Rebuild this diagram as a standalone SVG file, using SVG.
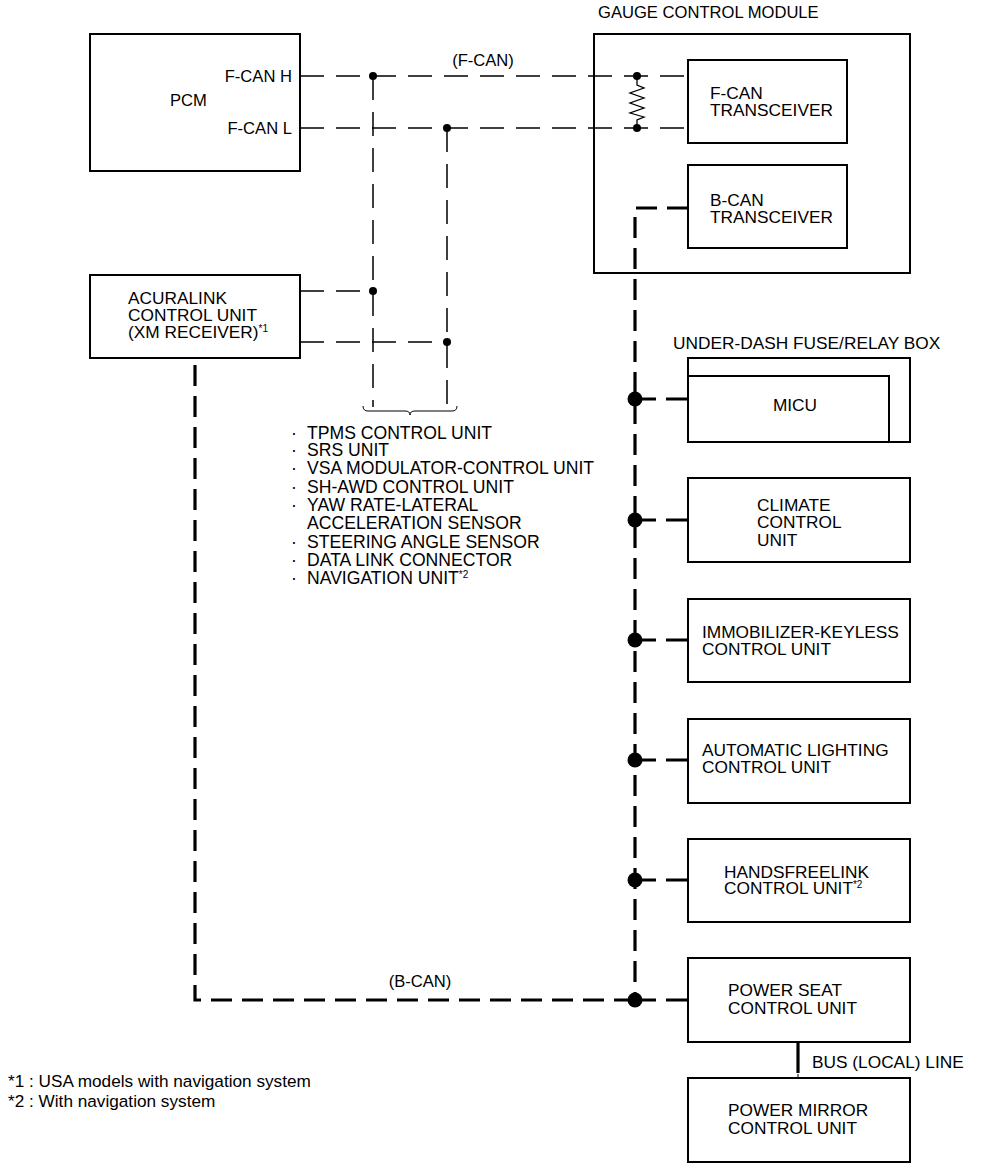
<svg xmlns="http://www.w3.org/2000/svg" width="992" height="1172" viewBox="0 0 992 1172">
<style>
text{font-family:"Liberation Sans",Arial,sans-serif;font-size:17.3px;fill:#000}
.box{fill:none;stroke:#000;stroke-width:2}
.thin{fill:none;stroke:#000;stroke-width:1.5;stroke-dasharray:24 12}
.thick{fill:none;stroke:#000;stroke-width:3.2;stroke-dasharray:21 10}
.sm{fill:#000}
.big{fill:#000}
.lbl{font-size:16.6px}
.list{font-size:17.6px}
.fn{font-size:17.2px}
</style>
<rect width="992" height="1172" fill="#fff"/>
<g id="pcm">
<rect class="box" x="90" y="34" width="210" height="137"/>
<text x="170" y="106" class="lbl">PCM</text>
<text x="292" y="82" text-anchor="end" class="lbl">F-CAN H</text>
<text x="292" y="134" text-anchor="end" class="lbl">F-CAN L</text>
</g>
<g id="gauge">
<text x="598" y="18" class="lbl">GAUGE CONTROL MODULE</text>
<rect class="box" x="594" y="34" width="316" height="239"/>
<g id="fcan-transceiver">
<rect class="box" x="688" y="60" width="159" height="83"/>
<text x="710" y="99">F-CAN</text>
<text x="710" y="116">TRANSCEIVER</text>
</g>
<g id="bcan-transceiver">
<rect class="box" x="688" y="165" width="159" height="83"/>
<text x="710" y="206">B-CAN</text>
<text x="710" y="223">TRANSCEIVER</text>
</g>
<g id="resistor">
<polyline fill="none" stroke="#000" stroke-width="1.3" points="637,76 637,85 644,88 630,93 644,98 630,103 644,108 630,113 644,117 637,120 637,128"/>
<circle class="sm" cx="637" cy="76" r="4"/>
<circle class="sm" cx="637" cy="128" r="4"/>
</g>
</g>
<g id="acuralink">
<rect class="box" x="90" y="275" width="210" height="83"/>
<text x="128" y="304">ACURALINK</text>
<text x="128" y="321">CONTROL UNIT</text>
<text x="128" y="338">(XM RECEIVER)<tspan font-size="10" dy="-6">*1</tspan></text>
</g>
<g id="fcan-list">
<path d="M363,406 q0,5 5,5 h37 q5,0 5,4 q0,-4 5,-4 h37 q5,0 5,-5" fill="none" stroke="#000" stroke-width="1"/>
<text x="291" y="439" class="list">·</text><text x="307" y="439" class="list">TPMS CONTROL UNIT</text>
<text x="291" y="456" class="list">·</text><text x="307" y="456" class="list">SRS UNIT</text>
<text x="291" y="474" class="list">·</text><text x="307" y="474" class="list">VSA MODULATOR-CONTROL UNIT</text>
<text x="291" y="493" class="list">·</text><text x="307" y="493" class="list">SH-AWD CONTROL UNIT</text>
<text x="291" y="511" class="list">·</text><text x="307" y="511" class="list">YAW RATE-LATERAL</text>
<text x="307" y="529" class="list">ACCELERATION SENSOR</text>
<text x="291" y="548" class="list">·</text><text x="307" y="548" class="list">STEERING ANGLE SENSOR</text>
<text x="291" y="566" class="list">·</text><text x="307" y="566" class="list">DATA LINK CONNECTOR</text>
<text x="291" y="584" class="list">·</text><text x="307" y="584" class="list">NAVIGATION UNIT<tspan font-size="10" dy="-6">*2</tspan></text>
</g>
<g id="fuse-box">
<text x="673" y="349">UNDER-DASH FUSE/RELAY BOX</text>
<rect class="box" x="688" y="358" width="222" height="84"/>
<g id="micu">
<rect class="box" x="688" y="376" width="201" height="66"/>
<text x="795" y="411" text-anchor="middle">MICU</text>
</g>
</g>
<g id="climate">
<rect class="box" x="688" y="478" width="222" height="84"/>
<text x="757" y="511">CLIMATE</text>
<text x="757" y="528">CONTROL</text>
<text x="757" y="546">UNIT</text>
</g>
<g id="immobilizer">
<rect class="box" x="688" y="599" width="222" height="83"/>
<text x="702" y="638">IMMOBILIZER-KEYLESS</text>
<text x="702" y="655">CONTROL UNIT</text>
</g>
<g id="lighting">
<rect class="box" x="688" y="719" width="222" height="84"/>
<text x="702" y="756">AUTOMATIC LIGHTING</text>
<text x="702" y="773">CONTROL UNIT</text>
</g>
<g id="handsfree">
<rect class="box" x="688" y="839" width="222" height="83"/>
<text x="724" y="878">HANDSFREELINK</text>
<text x="724" y="894">CONTROL UNIT<tspan font-size="10" dy="-6">*2</tspan></text>
</g>
<g id="power-seat">
<rect class="box" x="688" y="958" width="222" height="84"/>
<text x="728" y="996">POWER SEAT</text>
<text x="728" y="1014">CONTROL UNIT</text>
</g>
<g id="power-mirror">
<rect class="box" x="688" y="1078" width="222" height="84"/>
<text x="728" y="1116">POWER MIRROR</text>
<text x="728" y="1134">CONTROL UNIT</text>
</g>
<g id="connectors">
<path class="thin" d="M300,76 H688"/>
<path class="thin" d="M300,128 H688"/>
<path class="thin" d="M300,291 H373"/>
<path class="thin" d="M300,342 H447"/>
<path class="thin" d="M373,76 V407"/>
<path class="thin" d="M447,128 V407"/>
<circle class="sm" cx="373" cy="76" r="4"/>
<circle class="sm" cx="447" cy="128" r="4"/>
<circle class="sm" cx="373" cy="291" r="4"/>
<circle class="sm" cx="447" cy="342" r="4"/>
<text x="483" y="66" text-anchor="middle" class="lbl">(F-CAN)</text>
<path class="thick" d="M688,208 H635 V1000"/>
<path class="thick" d="M195,365 V1000 H635"/>
<path class="thick" d="M635,399 H688"/>
<path class="thick" d="M635,520 H688"/>
<path class="thick" d="M635,640 H688"/>
<path class="thick" d="M635,760 H688"/>
<path class="thick" d="M635,880 H688"/>
<path class="thick" d="M635,1000 H688"/>
<circle class="big" cx="635" cy="399" r="7.5"/>
<circle class="big" cx="635" cy="520" r="7.5"/>
<circle class="big" cx="635" cy="640" r="7.5"/>
<circle class="big" cx="635" cy="760" r="7.5"/>
<circle class="big" cx="635" cy="880" r="7.5"/>
<circle class="big" cx="635" cy="1000" r="7.5"/>
<text x="420" y="987" text-anchor="middle" class="lbl">(B-CAN)</text>
<path d="M798,1042 V1073" stroke="#000" stroke-width="3.2" fill="none"/>
<path d="M798,1074 V1078" stroke="#000" stroke-width="1" fill="none"/>
<text x="812" y="1068">BUS (LOCAL) LINE</text>
</g>
<g id="footnotes">
<text x="8" y="1087" class="fn">*1 : USA models with navigation system</text>
<text x="8" y="1107" class="fn">*2 : With navigation system</text>
</g>
</svg>
